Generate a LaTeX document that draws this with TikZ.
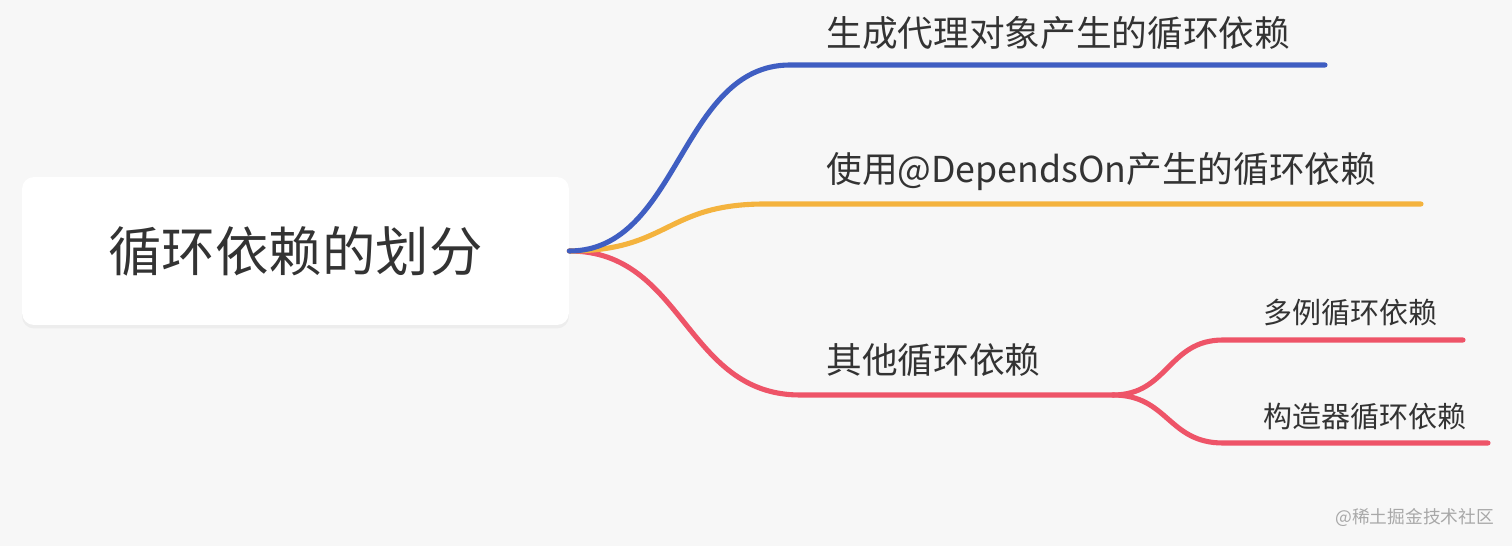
\documentclass[tikz,border=0pt]{standalone}
\usepackage{fontspec}
\setmainfont{Noto Sans CJK SC}
\usepackage{xcolor}
\usepackage{tikz}
\usetikzlibrary{positioning, shadows}

\definecolor{bgcol}{HTML}{F7F7F7}
\definecolor{inkcol}{HTML}{333333}
\definecolor{bluecol}{HTML}{3F5EC2}
\definecolor{orangecol}{HTML}{F4B33E}
\definecolor{redcol}{HTML}{EE5468}
\definecolor{markcol}{HTML}{A8A8A8}

\begin{document}
\begin{tikzpicture}[
    x=0.02cm, y=-0.02cm,
    root/.style={
        rectangle, fill=white, rounded corners=0.24cm,
        minimum width=10.94cm, minimum height=2.96cm,
        drop shadow={shadow xshift=0pt, shadow yshift=-2pt, opacity=0.08},
        text=inkcol, font=\fontsize{30.4}{34}\selectfont
    },
    topic/.style={anchor=west, inner sep=0pt, text=inkcol, font=\fontsize{20.3}{24}\selectfont},
    subtopic/.style={anchor=west, inner sep=0pt, text=inkcol, font=\fontsize{16.5}{20}\selectfont},
    branch/.style={line width=2.9pt, line cap=round}
]
    % page and background
    \fill[bgcol] (0,0) rectangle (1512,546);
    \useasboundingbox (0,0) rectangle (1512,546);

    \node[root] (root) at (295.5,251) {循环依赖的划分};

    \node[topic] (proxy) at (826,33) {生成代理对象产生的循环依赖};
    \node[topic] (depends) at (826,172) {使用@DependsOn产生的循环依赖};
    \node[topic] (other) at (826,360) {其他循环依赖};
    \node[subtopic] (proto) at (1263,313) {多例循环依赖};
    \node[subtopic] (ctor) at (1263,417) {构造器循环依赖};

    % line ends under the topics
    \coordinate (proxyL) at (790,65);
    \coordinate (proxyR) at (1325,65);
    \coordinate (dependsL) at (765,204);
    \coordinate (dependsR) at (1421,204);
    \coordinate (otherL) at (800,395);
    \coordinate (otherR) at (1113,395);
    \coordinate (protoL) at (1223,340);
    \coordinate (protoR) at (1463,340);
    \coordinate (ctorL) at (1223,443);
    \coordinate (ctorR) at (1488,443);

    \draw[branch, redcol] (root.east) .. controls +(115,0) and +(-115,0) .. (otherL) -- (otherR);
    \draw[branch, redcol] (otherR) .. controls +(55,0) and +(-55,0) .. (protoL) -- (protoR);
    \draw[branch, redcol] (otherR) .. controls +(55,0) and +(-55,0) .. (ctorL) -- (ctorR);
    \draw[branch, orangecol] (root.east) .. controls +(100,0) and +(-100,0) .. (dependsL) -- (dependsR);
    \draw[branch, bluecol] (root.east) .. controls +(110,0) and +(-110,0) .. (proxyL) -- (proxyR);

    \node[anchor=west, inner sep=0pt, text=markcol, font=\fontsize{10.1}{12}\selectfont] (mark) at (1335,518) {@稀土掘金技术社区};
\end{tikzpicture}
\end{document}
